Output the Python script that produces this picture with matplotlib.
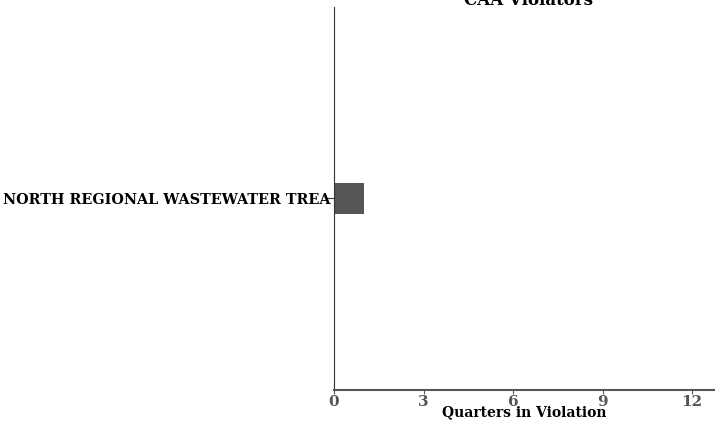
import matplotlib
matplotlib.use("Agg")
import matplotlib.pyplot as plt

facilities = ["NORTH REGIONAL WASTEWATER TREA"]
quarters = [1]
x_ticks = [0, 3, 6, 9, 12]

plt.rcParams['font.family'] = 'DejaVu Serif'
plt.rcParams['font.weight'] = 'bold'

fig = plt.figure(figsize=(7.15, 4.23), dpi=100)
ax = fig.add_axes([334 / 715, 33 / 423, 381 / 715, 383 / 423])

ax.barh(range(len(facilities)), quarters, height=0.8, color='#555555')
ax.set_yticks(range(len(facilities)))
ax.set_yticklabels(facilities, fontsize=10.4, fontweight='bold', color='black')
ax.set_ylim(-4.8, 4.8)

ax.set_xlim(0, 12.77)
ax.set_xticks(x_ticks)
ax.set_xticklabels([str(t) for t in x_ticks], fontsize=11, fontweight='bold', color='#555555')
ax.tick_params(axis='x', length=3, color='#555555', pad=0.5)
ax.tick_params(axis='y', length=5, color='#333333', pad=-2.5)

ax.set_xlabel("Quarters in Violation", fontsize=10, fontweight='bold', labelpad=-3)

# title sits mostly above the canvas, as in the original
fig.text(528 / 715, 1 - 5 / 423, "CAA Violators", fontsize=12, fontweight='bold',
         ha='center', va='baseline')

for s in ['top', 'right']:
    ax.spines[s].set_visible(False)
ax.spines['left'].set_color('#333333')
ax.spines['bottom'].set_color('#555555')
ax.spines['bottom'].set_linewidth(1.5)

fig.savefig("out.png", dpi=100)
